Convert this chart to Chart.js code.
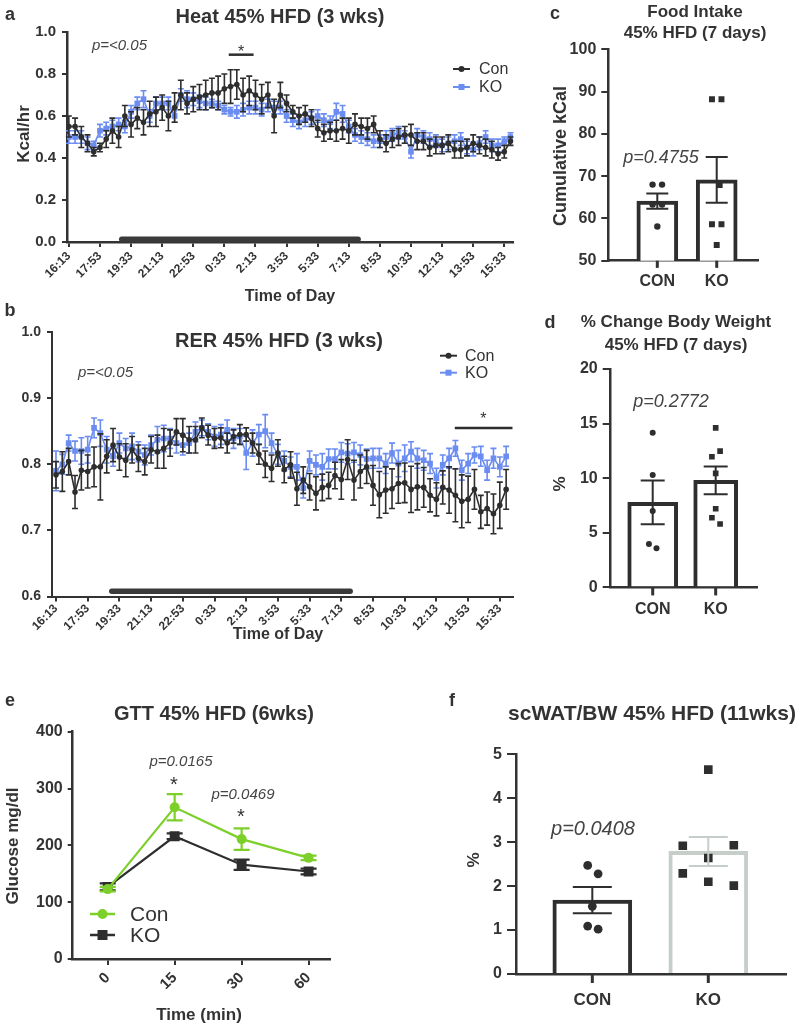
<!DOCTYPE html>
<html>
<head>
<meta charset="utf-8">
<script src="https://cdn.jsdelivr.net/npm/chart.js@4.4.0/dist/chart.umd.min.js"></script>
<style>
body { margin: 0; background: #fff; overflow: hidden; }
#wrap { position: relative; width: 797px; height: 1027px; }
canvas { position: absolute; }
</style>
</head>
<body>
<div id="wrap">
<canvas id="heat" width="530" height="305" style="left:0px;top:0px"></canvas>
<canvas id="rer" width="530" height="345" style="left:0px;top:300px"></canvas>
<canvas id="food" width="257" height="295" style="left:540px;top:0px"></canvas>
<canvas id="bw" width="257" height="320" style="left:540px;top:310px"></canvas>
<canvas id="gtt" width="340" height="337" style="left:0px;top:690px"></canvas>
<canvas id="wat" width="357" height="337" style="left:440px;top:690px"></canvas>
</div>
<script>
// ---- data ----
const timeTicks = ['16:13','17:53','19:33','21:13','22:53','0:33','2:13','3:53','5:33','7:13','8:53','10:33','12:13','13:53','15:33'];
const tickIdx = [0,5,10,15,20,25,30,35,40,45,50,55,60,65,70];

const conHeat = [0.55,0.55,0.50,0.47,0.43,0.45,0.49,0.53,0.50,0.60,
  0.56,0.59,0.57,0.61,0.62,0.64,0.60,0.64,0.70,0.66,
  0.68,0.69,0.70,0.71,0.71,0.73,0.74,0.75,0.70,0.72,
  0.70,0.68,0.70,0.60,0.70,0.66,0.62,0.60,0.61,0.59,
  0.54,0.52,0.53,0.53,0.54,0.53,0.56,0.55,0.54,0.56,
  0.49,0.47,0.49,0.50,0.51,0.51,0.48,0.48,0.45,0.46,
  0.46,0.47,0.44,0.44,0.45,0.47,0.46,0.45,0.44,0.42,
  0.43,0.48];
const conHeatErr = [0.05,0.04,0.05,0.04,0.02,0.02,0.04,0.06,0.05,0.05,
  0.06,0.05,0.06,0.06,0.07,0.06,0.07,0.07,0.07,0.05,
  0.06,0.06,0.07,0.07,0.08,0.07,0.08,0.07,0.08,0.07,
  0.07,0.07,0.06,0.08,0.06,0.04,0.03,0.04,0.04,0.04,
  0.04,0.04,0.04,0.05,0.05,0.06,0.05,0.04,0.05,0.04,
  0.04,0.04,0.04,0.04,0.04,0.05,0.04,0.04,0.04,0.04,
  0.04,0.04,0.04,0.04,0.04,0.04,0.04,0.04,0.04,0.03,
  0.03,0.02];
const koHeat = [0.50,0.50,0.50,0.47,0.46,0.53,0.54,0.55,0.56,0.55,
  0.62,0.66,0.68,0.60,0.66,0.66,0.66,0.60,0.70,0.68,
  0.68,0.67,0.66,0.66,0.65,0.63,0.62,0.62,0.63,0.64,
  0.64,0.63,0.65,0.64,0.64,0.60,0.58,0.57,0.58,0.59,
  0.60,0.58,0.57,0.62,0.61,0.55,0.51,0.50,0.49,0.48,
  0.48,0.50,0.51,0.52,0.50,0.43,0.51,0.50,0.49,0.48,
  0.46,0.47,0.48,0.49,0.45,0.44,0.47,0.50,0.46,0.46,
  0.48,0.50];
const koHeatErr = [0.03,0.03,0.03,0.03,0.02,0.03,0.03,0.03,0.03,0.03,
  0.03,0.03,0.04,0.03,0.03,0.03,0.03,0.03,0.03,0.04,
  0.03,0.03,0.03,0.02,0.02,0.02,0.02,0.03,0.03,0.03,
  0.03,0.03,0.03,0.03,0.03,0.03,0.03,0.03,0.03,0.03,
  0.03,0.03,0.03,0.04,0.04,0.03,0.03,0.03,0.03,0.03,
  0.03,0.03,0.03,0.03,0.03,0.03,0.03,0.03,0.03,0.03,
  0.03,0.03,0.03,0.03,0.03,0.03,0.03,0.03,0.03,0.03,
  0.02,0.02];

const conRer = [0.784,0.789,0.804,0.758,0.791,0.789,0.796,0.796,0.812,0.829,
  0.811,0.806,0.822,0.809,0.804,0.822,0.819,0.824,0.832,0.849,
  0.844,0.837,0.837,0.855,0.844,0.839,0.840,0.832,0.842,0.845,
  0.845,0.832,0.815,0.800,0.794,0.817,0.792,0.799,0.763,0.776,
  0.766,0.756,0.765,0.768,0.783,0.777,0.807,0.776,0.789,0.796,
  0.768,0.754,0.761,0.763,0.771,0.772,0.762,0.766,0.765,0.753,
  0.747,0.765,0.761,0.753,0.744,0.747,0.762,0.728,0.733,0.725,
  0.738,0.762];
const conRerErr = [0.02,0.03,0.02,0.025,0.03,0.025,0.03,0.05,0.025,0.025,
  0.02,0.025,0.02,0.02,0.02,0.02,0.025,0.03,0.02,0.02,
  0.025,0.02,0.02,0.015,0.015,0.015,0.015,0.015,0.01,0.015,
  0.01,0.015,0.015,0.02,0.02,0.02,0.02,0.02,0.025,0.02,
  0.02,0.025,0.02,0.02,0.02,0.03,0.03,0.03,0.025,0.025,
  0.03,0.035,0.035,0.03,0.03,0.03,0.035,0.035,0.03,0.025,
  0.025,0.025,0.035,0.04,0.04,0.035,0.03,0.025,0.025,0.03,
  0.035,0.03];
const koRer = [0.790,0.800,0.832,0.820,0.820,0.822,0.855,0.847,0.822,0.812,
  0.832,0.824,0.827,0.819,0.814,0.829,0.837,0.839,0.839,0.832,
  0.829,0.832,0.849,0.855,0.849,0.842,0.845,0.852,0.839,0.842,
  0.817,0.832,0.845,0.850,0.832,0.815,0.805,0.796,0.796,0.764,
  0.805,0.799,0.796,0.808,0.808,0.818,0.816,0.818,0.814,0.808,
  0.809,0.809,0.801,0.817,0.801,0.809,0.819,0.809,0.806,0.801,
  0.779,0.799,0.809,0.824,0.791,0.801,0.814,0.812,0.791,0.809,
  0.796,0.812];
const koRerErr = [0.03,0.015,0.012,0.015,0.02,0.02,0.015,0.02,0.02,0.015,
  0.015,0.015,0.02,0.015,0.015,0.015,0.02,0.02,0.015,0.015,
  0.015,0.015,0.015,0.012,0.012,0.015,0.015,0.015,0.015,0.012,
  0.025,0.02,0.015,0.025,0.015,0.015,0.015,0.015,0.02,0.015,
  0.015,0.015,0.02,0.015,0.015,0.015,0.015,0.015,0.015,0.015,
  0.015,0.015,0.015,0.015,0.02,0.02,0.015,0.015,0.015,0.015,
  0.015,0.015,0.015,0.012,0.015,0.015,0.012,0.015,0.015,0.015,
  0.015,0.015];

// dark phase and significance spans (in time-index units)
const nightA = [8.5, 46.5], nightAY = 0.013;
const nightB = [8.8, 46.4], nightBY = 0.608;
const sigA = [25.7, 29.7], sigAY = 0.892;
const sigB = [62.9, 72.0], sigBY = 0.855;

const groups = ['CON', 'KO'];
const groupPos = [1, 2];

const foodMean = [64.1, 69.1], foodSem = [1.8, 5.4];
const foodCon = [68.0, 68.0, 63.3, 63.3, 58.1], foodConX = [0.92, 1.08, 0.92, 1.08, 1.0];
const foodKo = [88.2, 88.2, 67.9, 58.6, 58.6, 53.7], foodKoX = [1.92, 2.08, 2.05, 1.92, 2.08, 2.0];

const bwMean = [7.78, 9.8], bwSem = [2.0, 1.27];
const bwCon = [14.16, 10.28, 7.0, 3.96, 3.57], bwConX = [1.0, 1.0, 1.0, 0.94, 1.06];
const bwKo = [14.6, 12.48, 11.96, 10.44, 7.2, 6.37, 5.8], bwKoX = [2.0, 2.07, 1.94, 2.0, 2.0, 1.94, 2.07];

const gttTimes = ['0', '15', '30', '60'];
const gttCon = [123, 267, 211, 178], gttConErr = [4, 23, 19, 4];
const gttKo = [127, 216, 166, 154], gttKoErr = [6, 5, 9, 5];

const watMean = [1.68, 2.79], watSem = [0.30, 0.33];
const watCon = [2.47, 2.28, 1.54, 1.09, 1.02], watConX = [0.96, 1.05, 1.0, 0.96, 1.05];
const watKo = [4.65, 2.92, 2.93, 2.64, 2.29, 2.10, 2.01], watKoX = [2.0, 1.78, 2.22, 2.0, 1.78, 2.0, 2.22];

// ---- style ----
const FONT = "'Liberation Sans', Arial, Helvetica, sans-serif";
const TXT = '#333333';
const DARK = '#2e2e2e';
const BLUE = '#6b8cf0';
const GREEN = '#7dcf2a';
const LIGHT = '#c6ceca';

Chart.defaults.font.family = FONT;
Chart.defaults.color = TXT;
Chart.defaults.animation = false;

function pts(ys, xs) 
{
    return ys.map((v, i) => ({ x: xs ? xs[i] : i, y: v }));
}

function span(xs, y) 
{
    return [{ x: xs[0], y: y }, { x: xs[1], y: y }];
}

/**********/
// error bars, drawn through the y scale
Chart.register({
    id: 'errbars',
    drawBars(chart, index) 
    {
        let ds = chart.data.datasets[index];
        let meta = chart.getDatasetMeta(index);
        let ys = chart.scales.y;
        let ctx = chart.ctx;
        ctx.save();
        ctx.strokeStyle = ds.errColor || ds.borderColor;
        ctx.lineWidth = ds.errWidth || 1.5;
        meta.data.forEach((el, i) => {
            let v = ds.data[i].y;
            let e = ds.errors[i];
            let top = ys.getPixelForValue(v + e);
            let bot = ys.getPixelForValue(v - e);
            let w = ds.capWidth / 2;
            ctx.beginPath();
            ctx.moveTo(el.x, top); ctx.lineTo(el.x, bot);
            ctx.moveTo(el.x - w, top); ctx.lineTo(el.x + w, top);
            ctx.moveTo(el.x - w, bot); ctx.lineTo(el.x + w, bot);
            ctx.stroke();
        });
        ctx.restore();
    },
    afterDatasetDraw(chart, args) 
    {
        let ds = chart.data.datasets[args.index];
        if (ds.errors && !ds.errLate) { this.drawBars(chart, args.index); }
    },
    afterDatasetsDraw(chart) 
    {
        chart.data.datasets.forEach((ds, i) => {
            if (ds.errors && ds.errLate) { this.drawBars(chart, i); }
        });
    }
});

/**********/
// titles, letters, p values, legends and group tick marks
Chart.register({
    id: 'labels',
    afterDraw(chart, args, opts) 
    {
        let ctx = chart.ctx;
        let marks = chart.options.groupTicks;
        if (marks) 
        {
            let xs = chart.scales.x;
            let base = chart.chartArea.bottom;
            ctx.save();
            ctx.strokeStyle = TXT;
            ctx.lineWidth = 3;
            groupPos.forEach(v => {
                let px = xs.getPixelForValue(v);
                ctx.beginPath();
                ctx.moveTo(px, base);
                ctx.lineTo(px, base + marks);
                ctx.stroke();
            });
            ctx.restore();
        }
        (opts.keys || []).forEach(k => {
            ctx.save();
            ctx.strokeStyle = k.color; ctx.fillStyle = k.color; ctx.lineWidth = k.lw || 2;
            ctx.beginPath(); ctx.moveTo(k.x, k.y); ctx.lineTo(k.x + k.len, k.y); ctx.stroke();
            let m = k.x + k.len / 2;
            ctx.beginPath();
            if (k.shape === 'circle') { ctx.arc(m, k.y, k.r, 0, Math.PI * 2); }
            else { ctx.rect(m - k.r, k.y - k.r, k.r * 2, k.r * 2); }
            ctx.fill();
            ctx.fillStyle = TXT;
            ctx.font = k.font;
            ctx.textAlign = 'left';
            ctx.textBaseline = 'middle';
            ctx.fillText(k.label, k.x + k.len + k.gap, k.y + 1);
            ctx.restore();
        });
        (opts.items || []).forEach(t => {
            ctx.save();
            let x = t.x, y = t.y;
            if (t.vx !== undefined) 
            {
                x = chart.scales.x.getPixelForValue(t.vx);
                y = chart.scales.y.getPixelForValue(t.vy) + (t.dy || 0);
            }
            ctx.font = t.font;
            ctx.fillStyle = t.color || TXT;
            ctx.textAlign = t.align || 'center';
            ctx.textBaseline = t.base || 'alphabetic';
            ctx.translate(x, y);
            if (t.rot) { ctx.rotate(t.rot); }
            ctx.fillText(t.text, 0, 0);
            ctx.restore();
        });
    }
});

function axisStyle(tickLen, borderW) 
{
    return {
        grid: { drawOnChartArea: false, drawTicks: true, offset: false, tickLength: tickLen, color: TXT, lineWidth: 2 },
        border: { display: true, color: TXT, width: borderW }
    };
}

/**********/
function timeChart(id, cfg) 
{
    return new Chart(document.getElementById(id), {
        type: 'line',
        data: {
            datasets: [
                { label: 'Con', data: pts(cfg.con), errors: cfg.conErr, borderColor: DARK, backgroundColor: DARK,
                  borderWidth: 1.6, pointStyle: 'circle', pointRadius: 2.8, pointBorderWidth: 0, capWidth: 6, errWidth: 1.6, order: 2 },
                { label: 'KO', data: pts(cfg.ko), errors: cfg.koErr, borderColor: BLUE, backgroundColor: BLUE,
                  borderWidth: 1.6, pointStyle: 'rect', pointRadius: 4, pointBorderWidth: 0, capWidth: 6, errWidth: 1.6, order: 3 },
                { data: span(cfg.night, cfg.nightY), borderColor: '#3a3a3a', borderWidth: 5.5, borderCapStyle: 'round',
                  pointRadius: 0, clip: false, order: 1 },
                { data: span(cfg.sig, cfg.sigY), borderColor: DARK, borderWidth: 2.5, pointRadius: 0, clip: false, order: 1 }
            ]
        },
        options: {
            responsive: false,
            layout: { padding: cfg.pad },
            plugins: { legend: { display: false }, tooltip: { enabled: false }, labels: cfg.labels },
            scales: {
                x: Object.assign({
                    type: 'linear', min: cfg.xMin, max: cfg.xMax,
                    afterBuildTicks: s => { s.ticks = tickIdx.map(v => ({ value: v })); },
                    afterFit: s => { s.height = cfg.xH; },
                    ticks: { autoSkip: false, minRotation: 45, maxRotation: 45, padding: cfg.xPad, color: TXT,
                             font: { size: 12, weight: 'bold' }, callback: (v, i) => timeTicks[i] }
                }, axisStyle(5, cfg.bw)),
                y: Object.assign({
                    min: cfg.yMin, max: cfg.yMax,
                    afterFit: s => { s.width = cfg.yW; },
                    ticks: { stepSize: cfg.step, padding: 6, color: TXT, font: { size: cfg.yFont, weight: 'bold' },
                             callback: v => v.toFixed(1) }
                }, axisStyle(5, cfg.bw))
            }
        }
    });
}

timeChart('heat', {
    con: conHeat, conErr: conHeatErr, ko: koHeat, koErr: koHeatErr,
    night: nightA, nightY: nightAY, sig: sigA, sigY: sigAY,
    pad: { top: 32, right: 17, left: 0, bottom: 0 }, xMin: -0.3, xMax: 71.4, xH: 63, yW: 67, xPad: 2,
    yMin: 0, yMax: 1, step: 0.2, yFont: 15, bw: 2.5,
    labels: {
        items: [
            { text: 'a', x: 10, y: 20, font: `bold 18px ${FONT}` },
            { text: 'Heat 45% HFD (3 wks)', x: 280, y: 23, font: `bold 20px ${FONT}` },
            { text: 'p=<0.05', x: 92, y: 50, align: 'left', color: '#444', font: `italic 15px ${FONT}` },
            { text: '*', vx: 27.7, vy: sigAY, dy: 2, font: `16px ${FONT}` },
            { text: 'Kcal/hr', x: 24, y: 134, rot: -Math.PI / 2, base: 'middle', font: `bold 17px ${FONT}` },
            { text: 'Time of Day', x: 290, y: 301, font: `bold 16px ${FONT}` }
        ],
        keys: [
            { label: 'Con', x: 453, y: 69, len: 17, gap: 9, color: DARK, shape: 'circle', r: 3, font: `16px ${FONT}` },
            { label: 'KO', x: 453, y: 87, len: 17, gap: 9, color: BLUE, shape: 'rect', r: 3, font: `16px ${FONT}` }
        ]
    }
});

timeChart('rer', {
    con: conRer, conErr: conRerErr, ko: koRer, koErr: koRerErr,
    night: nightB, nightY: nightBY, sig: sigB, sigY: sigBY,
    pad: { top: 32, right: 17, left: 0, bottom: 0 }, xMin: -0.63, xMax: 72.08, xH: 48.5, yW: 52, xPad: 0,
    yMin: 0.6, yMax: 1.0, step: 0.1, yFont: 14, bw: 2,
    labels: {
        items: [
            { text: 'b', x: 10, y: 16, font: `bold 18px ${FONT}` },
            { text: 'RER 45% HFD (3 wks)', x: 279, y: 47, font: `bold 20px ${FONT}` },
            { text: 'p=<0.05', x: 78, y: 77, align: 'left', color: '#444', font: `italic 15px ${FONT}` },
            { text: '*', vx: 67.4, vy: sigBY, dy: -4, font: `16px ${FONT}` },
            { text: 'Time of Day', x: 278, y: 339, font: `bold 16px ${FONT}` }
        ],
        keys: [
            { label: 'Con', x: 440, y: 55.7, len: 17, gap: 8, color: DARK, shape: 'circle', r: 3, font: `16px ${FONT}` },
            { label: 'KO', x: 440, y: 72.7, len: 17, gap: 8, color: BLUE, shape: 'rect', r: 3, font: `16px ${FONT}` }
        ]
    }
});

/**********/
function groupChart(id, cfg) 
{
    let barSet = (i) => ({
        type: 'bar', data: [{ x: groupPos[i], y: cfg.mean[i] }], errors: [cfg.sem[i]], errLate: true,
        barThickness: cfg.barW[i], borderWidth: cfg.barBorder, borderColor: cfg.barColor[i], errColor: cfg.barColor[i],
        backgroundColor: '#ffffff', grouped: false, capWidth: cfg.cap, errWidth: 2, order: 3
    });
    return new Chart(document.getElementById(id), {
        type: 'bar',
        data: {
            datasets: [
                barSet(0), barSet(1),
                { type: 'scatter', data: pts(cfg.con, cfg.conX), pointStyle: 'circle', pointRadius: cfg.dotR,
                  backgroundColor: DARK, borderWidth: 0, order: 1 },
                { type: 'scatter', data: pts(cfg.ko, cfg.koX), pointStyle: 'rect', pointRadius: cfg.sqR,
                  backgroundColor: DARK, borderWidth: 0, order: 1 }
            ]
        },
        options: {
            responsive: false,
            groupTicks: cfg.tick,
            layout: { padding: cfg.pad },
            plugins: { legend: { display: false }, tooltip: { enabled: false }, labels: cfg.labels },
            scales: {
                x: Object.assign({
                    type: 'linear', min: cfg.xMin, max: cfg.xMax, offset: false,
                    afterBuildTicks: s => { s.ticks = groupPos.map(v => ({ value: v })); },
                    afterFit: s => { s.height = cfg.xH; },
                    ticks: { autoSkip: false, maxRotation: 0, padding: cfg.xPad, color: TXT,
                             font: { size: cfg.xFont, weight: 'bold' }, callback: (v, i) => groups[i] }
                }, axisStyle(cfg.tick, cfg.bw)),
                y: Object.assign({
                    min: cfg.yMin, max: cfg.yMax,
                    afterFit: s => { s.width = cfg.yW; },
                    ticks: { stepSize: cfg.step, padding: 5, color: TXT, font: { size: cfg.yFont, weight: 'bold' } }
                }, axisStyle(cfg.tick, cfg.bw))
            }
        }
    });
}

groupChart('food', {
    mean: foodMean, sem: foodSem, con: foodCon, conX: foodConX, ko: foodKo, koX: foodKoX,
    barW: [41, 41], barBorder: 4, barColor: [DARK, DARK], cap: 22, dotR: 3.2, sqR: 4.2,
    pad: { top: 49.3, right: 39, left: 0, bottom: 0 }, xMin: 0.175, xMax: 2.695, xH: 34.3, yW: 68.3,
    yMin: 50, yMax: 100, step: 10, yFont: 16, xFont: 16, xPad: 4, tick: 7, bw: 2.5,
    labels: {
        items: [
            { text: 'c', x: 15, y: 19, font: `bold 18px ${FONT}` },
            { text: 'Food Intake', x: 155, y: 17, font: `bold 17px ${FONT}` },
            { text: '45% HFD (7 days)', x: 155, y: 38, font: `bold 17px ${FONT}` },
            { text: 'Cumulative kCal', x: 21, y: 156, rot: -Math.PI / 2, base: 'middle', font: `bold 18px ${FONT}` },
            { text: 'p=0.4755', x: 121, y: 163, color: '#444', font: `italic 18px ${FONT}` }
        ]
    }
});

groupChart('bw', {
    mean: bwMean, sem: bwSem, con: bwCon, conX: bwConX, ko: bwKo, koX: bwKoX,
    barW: [50, 44], barBorder: 4, barColor: [DARK, DARK], cap: 24, dotR: 3, sqR: 4,
    pad: { top: 59, right: 40, left: 0, bottom: 0 }, xMin: 0.333, xMax: 2.656, xH: 42.7, yW: 70.7,
    yMin: 0, yMax: 20, step: 5, yFont: 16, xFont: 16, xPad: 5, tick: 8, bw: 2.5,
    labels: {
        items: [
            { text: 'd', x: 10, y: 18, font: `bold 18px ${FONT}` },
            { text: '% Change Body Weight', x: 136, y: 17, font: `bold 17px ${FONT}` },
            { text: '45% HFD (7 days)', x: 136, y: 40, font: `bold 17px ${FONT}` },
            { text: '%', x: 20, y: 174, rot: -Math.PI / 2, base: 'middle', font: `bold 17px ${FONT}` },
            { text: 'p=0.2772', x: 131, y: 97, color: '#444', font: `italic 18px ${FONT}` }
        ]
    }
});

groupChart('wat', {
    mean: watMean, sem: watSem, con: watCon, conX: watConX, ko: watKo, koX: watKoX,
    barW: [79, 79], barBorder: 4, barColor: [DARK, LIGHT], cap: 39, dotR: 4.4, sqR: 6.1,
    pad: { top: 64.3, right: 11, left: 0, bottom: 0 }, xMin: 0.342, xMax: 2.67, xH: 53, yW: 76,
    yMin: 0, yMax: 5, step: 1, yFont: 16, xFont: 17, xPad: 7, tick: 9, bw: 2.5,
    labels: {
        items: [
            { text: 'f', x: 12, y: 16, font: `bold 18px ${FONT}` },
            { text: 'scWAT/BW 45% HFD (11wks)', x: 212, y: 30, font: `bold 21px ${FONT}` },
            { text: '%', x: 34, y: 170, rot: -Math.PI / 2, base: 'middle', font: `bold 17px ${FONT}` },
            { text: 'p=0.0408', x: 153, y: 145, color: '#444', font: `italic 20px ${FONT}` }
        ]
    }
});

/**********/
new Chart(document.getElementById('gtt'), {
    type: 'line',
    data: {
        datasets: [
            { label: 'Con', data: pts(gttCon), errors: gttConErr, borderColor: GREEN, backgroundColor: GREEN,
              borderWidth: 2.2, pointStyle: 'circle', pointRadius: 5, pointBorderWidth: 0, capWidth: 16, errWidth: 2.2, order: 1 },
            { label: 'KO', data: pts(gttKo), errors: gttKoErr, borderColor: DARK, backgroundColor: DARK,
              borderWidth: 2.2, pointStyle: 'rect', pointRadius: 7, pointBorderWidth: 0, capWidth: 16, errWidth: 2.2, order: 2 }
        ]
    },
    options: {
        responsive: false,
        layout: { padding: { top: 41.7, right: 10, left: 0, bottom: 0 } },
        plugins: {
            legend: { display: false }, tooltip: { enabled: false },
            labels: {
                items: [
                    { text: 'e', x: 10, y: 16, font: `bold 18px ${FONT}` },
                    { text: 'GTT 45% HFD (6wks)', x: 214, y: 30, font: `bold 20px ${FONT}` },
                    { text: 'p=0.0165', x: 181, y: 76, color: '#444', font: `italic 15px ${FONT}` },
                    { text: '*', x: 174, y: 101, font: `20px ${FONT}` },
                    { text: 'p=0.0469', x: 243, y: 109, color: '#444', font: `italic 15px ${FONT}` },
                    { text: '*', x: 241, y: 133, font: `20px ${FONT}` },
                    { text: 'Glucose mg/dl', x: 13, y: 156, rot: -Math.PI / 2, base: 'middle', font: `bold 17px ${FONT}` },
                    { text: 'Time (min)', x: 199, y: 330, font: `bold 17px ${FONT}` }
                ],
                keys: [
                    { label: 'Con', x: 90, y: 224, len: 25, gap: 15, lw: 2.5, color: GREEN, shape: 'circle', r: 5, font: `21px ${FONT}` },
                    { label: 'KO', x: 90, y: 245, len: 25, gap: 15, lw: 2.5, color: DARK, shape: 'rect', r: 5, font: `21px ${FONT}` }
                ]
            }
        },
        scales: {
            x: Object.assign({
                type: 'linear', min: -0.523, max: 3.32,
                afterBuildTicks: s => { s.ticks = [0, 1, 2, 3].map(v => ({ value: v })); },
                afterFit: s => { s.height = 68; },
                ticks: { autoSkip: false, minRotation: 45, maxRotation: 45, padding: 4, color: TXT,
                         font: { size: 15, weight: 'bold' }, callback: (v, i) => gttTimes[i] }
            }, axisStyle(6, 2.5)),
            y: Object.assign({
                min: 0, max: 400,
                afterFit: s => { s.width = 72.7; },
                ticks: { stepSize: 100, padding: 5, color: TXT, font: { size: 16, weight: 'bold' } }
            }, axisStyle(5, 2.5))
        }
    }
});
</script>
</body>
</html>
